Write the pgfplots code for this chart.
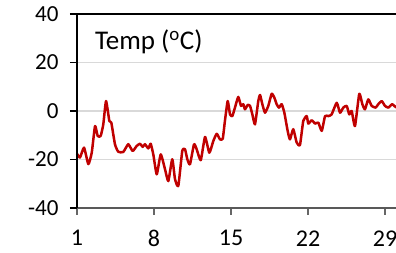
\documentclass[border=0pt]{standalone}
\usepackage{pgfplots}
\pgfplotsset{compat=1.18}
\usepackage{fontspec}
\setmainfont{Carlito}
\definecolor{linered}{HTML}{C00000}
\begin{document}
\begin{tikzpicture}
\begin{axis}[
 name=ax,
 at={(77pt,45pt)}, anchor=south west,
 scale only axis, width=322.3pt, height=194pt,
 xmin=1, xmax=30.3, ymin=-40, ymax=40,
 xtick={1,8,15,22,29}, ytick={-40,-20,0,20,40},
 axis line style={draw=none},
 tick align=outside, xtick pos=bottom, ytick pos=left,
 major tick length=7pt,
 xtick style={draw=gray!80!black, line width=1.2pt},
 ytick style={draw=black, line width=1.5pt},
 ymajorgrids, grid style={draw=gray!30, line width=1.5pt},
 /pgf/number format/assume math mode=true,
 yticklabel style={font=\fontsize{23}{23}\selectfont, xshift=-8pt},
 xticklabel style={font=\fontsize{24}{24}\selectfont, yshift=-12pt},
 clip=false,
]
\addplot[linered, line width=2.5pt, line join=round, smooth, tension=0.3] coordinates {
(1.00,-17.6) (1.27,-19.2) (1.64,-15.1) (2.03,-21.9) (2.34,-17.2) (2.64,-6.2)
(2.88,-10.3) (3.15,-10.3) (3.39,-5.5) (3.64,4.1) (3.94,-4.1) (4.12,-4.8)
(4.45,-13.7) (4.75,-16.8) (5.21,-16.9) (5.66,-13.7) (6.06,-16.5) (6.43,-14.4)
(6.73,-13.5) (6.97,-14.8) (7.18,-13.7) (7.48,-15.4) (7.70,-13.5) (7.94,-18.0)
(8.25,-26.1) (8.61,-17.9) (9.00,-24.0) (9.30,-28.9) (9.66,-19.9) (9.91,-28.1)
(10.21,-30.9) (10.57,-16.5) (10.82,-15.8) (11.03,-19.9) (11.27,-22.0) (11.64,-13.7)
(11.88,-15.8) (12.25,-20.3) (12.64,-10.7) (13.03,-17.2) (13.39,-12.4) (13.70,-9.4)
(14.00,-11.7) (14.25,-11.4) (14.45,-4.0) (14.70,4.1) (14.91,-1.4) (15.12,-2.1)
(15.36,1.4) (15.66,5.8) (15.91,2.1) (16.12,2.8) (16.27,0.7) (16.52,2.5)
(16.73,2.1) (16.94,-1.4) (17.18,-5.5) (17.48,4.1) (17.64,6.6) (17.85,2.8)
(18.09,-0.7) (18.39,2.1) (18.70,7.1) (18.94,5.5) (19.15,2.8) (19.36,1.4)
(19.61,2.8) (19.85,-0.7) (20.15,-8.2) (20.36,-11.7) (20.66,-7.5) (20.97,-13.0)
(21.27,-14.0) (21.57,-4.1) (21.88,-2.1) (22.03,-5.2) (22.34,-3.8) (22.64,-5.2)
(22.94,-4.8) (23.25,-8.2) (23.55,-2.1) (23.85,-2.1) (24.15,-1.4) (24.61,3.4)
(24.91,-0.7) (25.21,1.4) (25.52,2.1) (25.75,-1.4) (25.97,0.0) (26.27,-6.2)
(26.66,7.1) (26.94,2.8) (27.18,0.7) (27.48,4.8) (27.79,2.1) (28.15,1.4)
(28.39,2.8) (28.70,4.1) (29.00,2.1) (29.30,1.4) (29.66,2.8) (29.97,1.6)
(30.20,1.5)
};
\end{axis}
\draw[gray!70!black, line width=1.5pt] (ax.south west) -- (ax.south east);
\draw[black, line width=2.5pt] (ax.south west) -- (ax.north west) -- (ax.north east);
\node[anchor=west, inner sep=0pt, font=\fontsize{27}{27}\selectfont] at (95pt,211pt) {Temp (\textsuperscript{o}C)};
\pgfresetboundingbox
\useasboundingbox (0,0) rectangle (396pt,253pt);
\end{tikzpicture}
\end{document}
